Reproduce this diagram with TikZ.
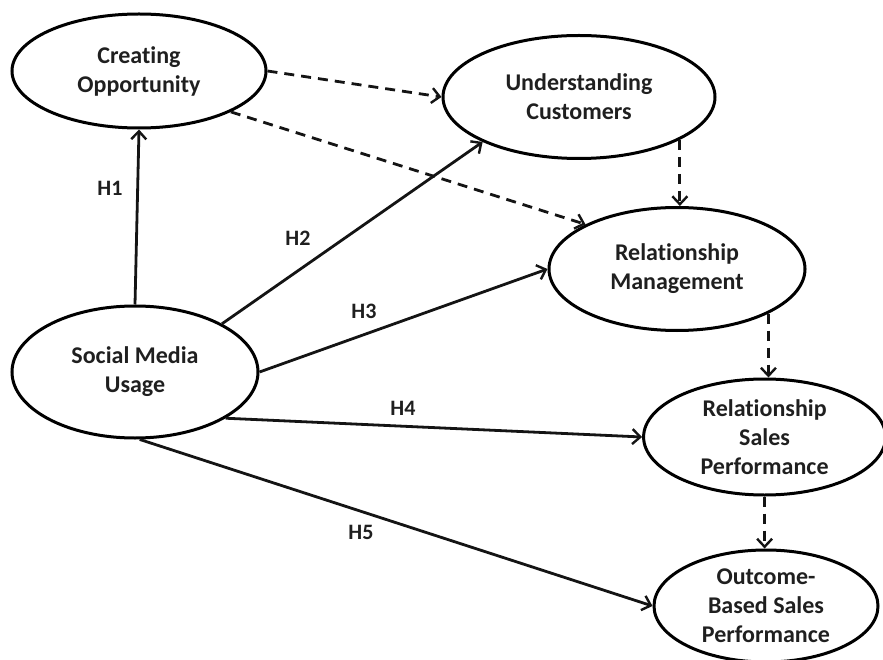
\documentclass[tikz,border=0pt]{standalone}
\usepackage{fontspec}
\setmainfont{Carlito}[Ligatures=NoCommon]
\usetikzlibrary{shapes.geometric,arrows.meta}
\begin{document}
\begin{tikzpicture}[x=1pt,y=-1pt,
  el/.style={ellipse, draw=black, line width=3pt, inner sep=0pt, align=center,
    font=\fontsize{24}{29}\selectfont\bfseries, text=black!88},
  tight/.style={inner sep=-9pt},
  lbl/.style={font=\fontsize{22}{25}\selectfont\bfseries, text=black!88, inner sep=0pt},
  arr/.style={line width=2.8pt, draw=black!92, -{Straight Barb[length=8pt,width=15pt,line width=2.4pt]}},
  darr/.style={arr, dash pattern=on 10pt off 7pt}]
\useasboundingbox (0,0) rectangle (883,660);
\node[el, minimum width=254pt, minimum height=114pt] (co) at (139,71) {Creating\\Opportunity};
\node[el, minimum width=272pt, minimum height=123pt] (uc) at (579,97) {Understanding\\Customers};
\node[el, minimum width=256pt, minimum height=123pt] (rm) at (677,269) {Relationship\\Management};
\node[el, minimum width=246pt, minimum height=132pt] (smu) at (135,372) {Social Media\\Usage};
\node[el, tight, minimum width=242pt, minimum height=116pt] (rsp) at (764.6,437) {Relationship\\Sales\\Performance};
\node[el, tight, minimum width=224pt, minimum height=112pt] (obsp) at (766,606) {Outcome-\\Based Sales\\Performance};

\draw[arr] (smu.north) -- (co.south);
\draw[arr] (smu.29) -- (uc.205.6);
\draw[arr] (smu.east) -- (rm.west);
\draw[arr] (smu.-27) -- (rsp.west);
\draw[arr] (smu.-86) -- (obsp.west);

\draw[darr] (co.east) -- (uc.west);
\draw[darr] (co.-24.7) -- (rm.154.4);
\draw[darr] (uc.-23) -- (uc.-23 |- rm.north);
\draw[darr] (rm.-26.6) -- (rm.-26.6 |- rsp.north);
\draw[darr] (rsp.south) -- (rsp.south |- obsp.north);

\node[lbl] (h1) at (110,188) {H1};
\node[lbl] (h2) at (298,238) {H2};
\node[lbl] (h3) at (364,311) {H3};
\node[lbl] (h4) at (403,408) {H4};
\node[lbl] (h5) at (361,532) {H5};
\end{tikzpicture}
\end{document}
